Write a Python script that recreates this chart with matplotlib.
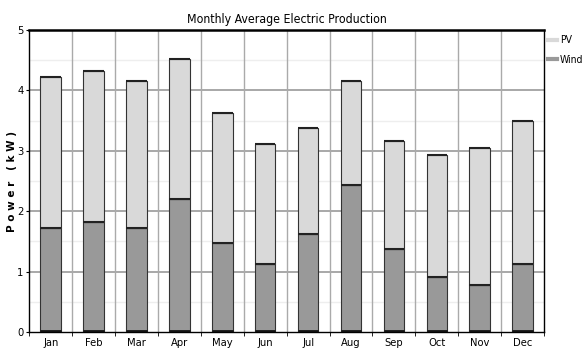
import matplotlib
matplotlib.use("Agg")
import matplotlib.pyplot as plt
import numpy as np
from matplotlib.lines import Line2D
from matplotlib import font_manager

names = {f.name for f in font_manager.fontManager.ttflist}
if 'Liberation Sans Narrow' in names:
    fam = ['Liberation Sans Narrow', 'DejaVu Sans']
else:
    fam = ['DejaVu Sans']
    plt.rcParams['font.stretch'] = 'condensed'
plt.rcParams['font.family'] = fam

months = ['Jan', 'Feb', 'Mar', 'Apr', 'May', 'Jun', 'Jul', 'Aug', 'Sep', 'Oct', 'Nov', 'Dec']
wind = [1.72, 1.82, 1.72, 2.20, 1.48, 1.13, 1.62, 2.43, 1.37, 0.91, 0.78, 1.13]
total = [4.22, 4.32, 4.15, 4.52, 3.63, 3.12, 3.38, 4.15, 3.17, 2.93, 3.05, 3.50]
pv = [t - w for t, w in zip(total, wind)]

fig = plt.figure(figsize=(5.85, 3.49), dpi=100)
ax = fig.add_axes([0.050, 0.0487, 0.880, 0.865])
x = np.arange(len(months))

ax.set_xlim(-0.5, 11.5)
ax.set_ylim(0, 5)

# grid
for yv in [0.5, 1.5, 2.5, 3.5, 4.5]:
    ax.axhline(yv, color='#eeeeee', lw=1.0, zorder=0)
for yv in [1, 2, 3, 4]:
    ax.axhline(yv, color='#999999', lw=1.2, zorder=0)
for xv in np.arange(0.5, 11.5, 1):
    ax.axvline(xv, color='#aaaaaa', lw=1.0, zorder=0)

ax.bar(x, wind, width=0.48, color='#999999', edgecolor='#333333', lw=0.8, zorder=2)
ax.bar(x, pv, bottom=wind, width=0.48, color='#d9d9d9', edgecolor='#333333', lw=0.8, zorder=2)
ax.hlines(wind, x - 0.24, x + 0.24, color='#222222', lw=1.5, zorder=3)
ax.hlines(total, x - 0.24, x + 0.24, color='#222222', lw=1.5, zorder=3)
ax.hlines([0.01] * 12, x - 0.24, x + 0.24, color='#111111', lw=2, zorder=3)

ax.set_xticks(x)
ax.set_xticklabels(months, fontsize=8)
ax.tick_params(axis='x', which='major', length=0, pad=4)
ax.set_xticks(np.arange(-0.5, 12, 1), minor=True)
ax.tick_params(axis='x', which='minor', length=3, color='black')
ax.set_yticks([0, 1, 2, 3, 4, 5])
ax.set_yticklabels(['0', '1', '2', '3', '4', '5'], fontsize=8)
ax.tick_params(axis='y', length=2, pad=2)

for s in ['left', 'bottom', 'right']:
    ax.spines[s].set_color('black')
    ax.spines[s].set_linewidth(1.0)
ax.spines['top'].set_color('black')
ax.spines['top'].set_linewidth(1.8)

ax.set_ylabel('P o w e r   ( k W )', fontsize=7.5, fontweight='bold', fontstretch='normal', labelpad=0)
fig.text(0.49, 0.945, 'Monthly Average Electric Production', ha='center', va='center', fontsize=8.8)

handles = [Line2D([], [], color='#d9d9d9', lw=3), Line2D([], [], color='#999999', lw=3)]
leg = fig.legend(handles, ['PV', 'Wind'], loc='upper left', bbox_to_anchor=(0.934, 0.905),
                 frameon=False, fontsize=7.5, handlelength=0.8, handletextpad=0.3, labelspacing=0.9,
                 borderaxespad=0, borderpad=0.2)

fig.savefig('out.png', dpi=100)
